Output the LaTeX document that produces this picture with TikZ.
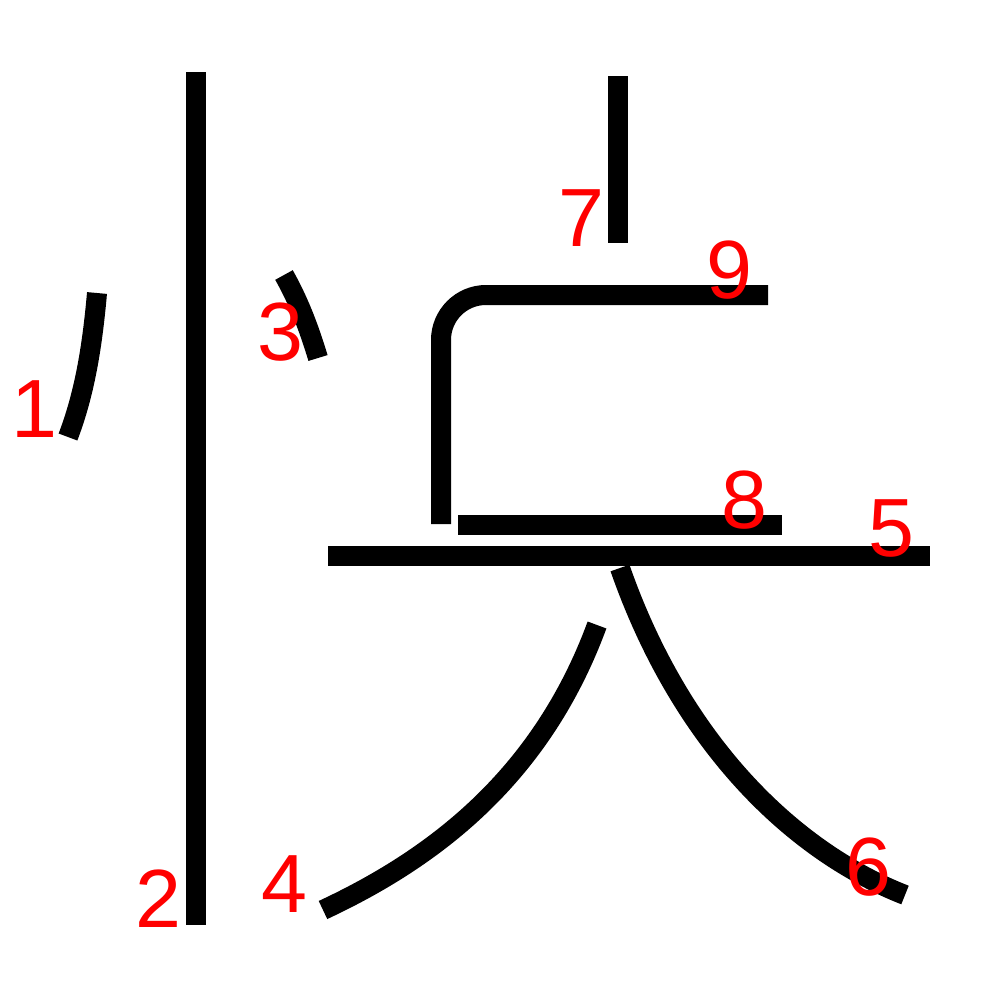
\documentclass[tikz,border=0pt]{standalone}
\usepackage{fontspec}
\setmainfont{Liberation Sans}
\begin{document}
\begin{tikzpicture}[x=0.1mm,y=-0.1mm,
  stroke/.style={line width=2mm,black},
  num/.style={text=red,font=\fontsize{23.5pt}{26pt}\selectfont,inner sep=0pt}]
\useasboundingbox (0,0) rectangle (1000,1000);
\fill[white] (0,0) rectangle (1000,1000);
% strokes
\draw[stroke] (97,293) .. controls (92,350) and (84,395) .. (68,437);
\draw[stroke] (196,72) -- (196,925);
\draw[stroke] (284,275) .. controls (298,300) and (308,325) .. (318,358);
\draw[stroke] (597,625) .. controls (540,780) and (430,860) .. (323,910);
\draw[stroke] (328,556) -- (930,556);
\draw[stroke] (620,568) .. controls (680,740) and (790,850) .. (905,895);
\draw[stroke] (618,76) -- (618,243);
\draw[stroke] (458,525) -- (782,525);
\draw[stroke,rounded corners=4.5mm] (441,524) -- (441,295) -- (768,295);
% labels
\node[num] (n1) at (34,409) {1};
\node[num] (n2) at (158,899) {2};
\node[num] (n3) at (280,332) {3};
\node[num] (n4) at (284,884) {4};
\node[num] (n5) at (891,528) {5};
\node[num] (n6) at (868,867) {6};
\node[num] (n7) at (581,218) {7};
\node[num] (n8) at (744,500) {8};
\node[num] (n9) at (729,270) {9};
\end{tikzpicture}
\end{document}
